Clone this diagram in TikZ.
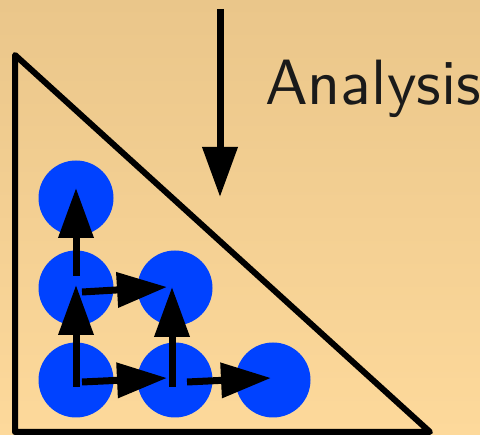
\documentclass[tikz,border=0pt]{standalone}
\usepackage{fontspec}
\newfontfamily\labfont{lmsans10-regular.otf}
\usetikzlibrary{arrows.meta}
\definecolor{bgtop}{RGB}{234,198,138}
\definecolor{bgbot}{RGB}{253,217,155}
\definecolor{ball}{RGB}{0,66,255}
\definecolor{ink}{RGB}{26,26,26}
\tikzset{
  ballnode/.style={circle,fill=ball,minimum size=75pt,inner sep=0pt},
  bigarrow/.style={line width=7pt,-{Triangle[length=50pt,width=34pt]}},
  tri/.style={line width=6pt,line join=round}
}
\begin{document}
\begin{tikzpicture}[x=1pt,y=-1pt]
\shade[top color=bgtop,bottom color=bgbot] (0,0) rectangle (480,435);
\useasboundingbox (0,0) rectangle (480,435);
\draw[tri] (15,55) -- (15,432) -- (430,432) -- cycle;
\node[ballnode] (c1) at (76,380) {};
\node[ballnode] (c2) at (175,380) {};
\node[ballnode] (c3) at (273,380) {};
\node[ballnode] (c4) at (76,288) {};
\node[ballnode] (c5) at (175,288) {};
\node[ballnode] (c6) at (76,198) {};
\draw[bigarrow] ([yshift=-7pt]c1.center) -- ([yshift=3pt]c4.center);
\draw[bigarrow] ([yshift=12pt]c4.center) -- ([yshift=10pt]c6.center);
\draw[bigarrow] ([shift={(6pt,-2pt)}]c1.center) -- ([shift={(-8pt,2pt)}]c2.center);
\draw[bigarrow] ([shift={(12pt,-2pt)}]c2.center) -- ([shift={(-2pt,2pt)}]c3.center);
\draw[bigarrow] ([shift={(6pt,-4pt)}]c4.center) -- ([shift={(-8pt,1pt)}]c5.center);
\draw[bigarrow] ([shift={(-3pt,-7pt)}]c2.center) -- ([shift={(-3pt,1pt)}]c5.center);
\coordinate (s) at (220,9);
\coordinate (t) at (220,197);
\draw[bigarrow] (s) -- (t);
\node[anchor=base west,inner sep=0pt,text=ink,font=\labfont\fontsize{64}{72}\selectfont] (lab) at (265,105) {Analysis};
\end{tikzpicture}
\end{document}
